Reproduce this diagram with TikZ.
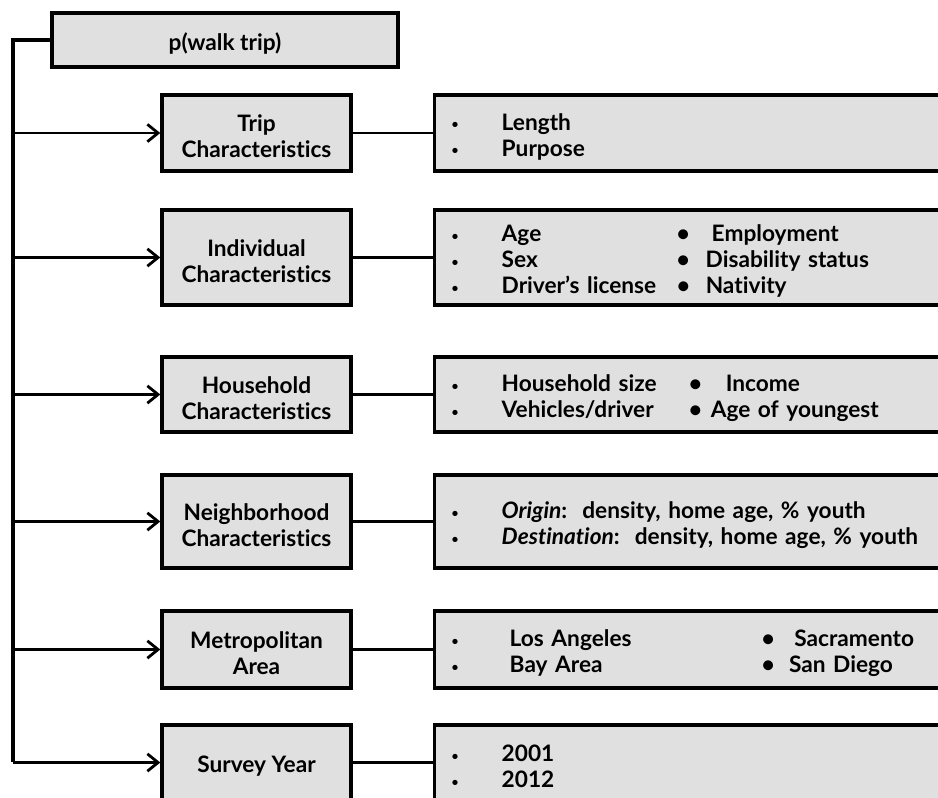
\documentclass[tikz,border=0pt]{standalone}
\usepackage{fontspec}
\setmainfont{Lato}[Ligatures=NoCommon]
\usetikzlibrary{arrows.meta}
\definecolor{boxgray}{RGB}{224,224,224}
\tikzset{
  catbox/.style={draw,line width=2.6pt,fill=boxgray,align=center,minimum width=141.75pt,inner sep=0pt},
  listbox/.style={draw,line width=2.6pt,fill=boxgray,anchor=west,text width=440pt,inner xsep=12.75pt,inner ysep=0pt,align=left},
  link/.style={line width=2.1pt},
  feed/.style={link,-{Straight Barb[length=8pt,width=13pt,line width=2.1pt]}},
}
\newcommand{\up}{\rule{0pt}{18pt}}
\newcommand{\sbul}{\makebox[37.5pt][l]{\raisebox{1pt}{\fontsize{9}{9}\selectfont\textbullet}}}
\newcommand{\bbul}[1]{\makebox[#1][l]{\textbullet}}

\begin{document}
\begin{tikzpicture}[x=0.75pt,y=0.75pt,yscale=-1,xscale=1,
  every node/.style={font=\fontsize{17}{19.5}\selectfont\bfseries}]
\clip (0,0) rectangle (938,797);
% outcome and trunk
\node[catbox,minimum width=259.5pt,minimum height=40.5pt] (walk) at (225,40) {\up p(walk trip)};
\coordinate (trunktop) at (13,40);
\coordinate (trunkbot) at (13,762);
\draw[link,line width=2.4pt] (walk.west) -- (trunktop) -- (trunkbot);

% groups of variables
\node[catbox,minimum height=57pt] (trip) at (256.5,133) {\up Trip\\Characteristics};
\node[catbox,minimum height=71.25pt] (indiv) at (256.5,257.5) {\up Individual\\Characteristics};
\node[catbox,minimum height=56.25pt] (house) at (256.5,394.5) {\up Household\\Characteristics};
\node[catbox,minimum height=69.75pt] (neigh) at (256.5,521.5) {\up Neighborhood\\Characteristics};
\node[catbox,minimum height=57.75pt] (metro) at (256.5,649.5) {\up Metropolitan\\Area};
\node[catbox,minimum height=56.25pt] (year) at (256.5,762.5) {\up Survey Year};

% lists
\node[listbox,minimum height=57pt] (tripl) at (433,133) {\up\sbul Length\\\sbul Purpose};
\node[listbox,minimum height=71.25pt] (indivl) at (433,257.5) {%
  \up\makebox[168.75pt][l]{\sbul Age}\bbul{21.75pt}\hspace{4.5pt}Employment\\
  \makebox[168.75pt][l]{\sbul Sex}\bbul{21.75pt}Disability status\\
  \makebox[168.75pt][l]{\sbul Driver's license}\bbul{21.75pt}Nativity};
\node[listbox,minimum height=56.25pt] (housel) at (433,394.5) {%
  \up\makebox[177.75pt][l]{\sbul Household size}\bbul{27.75pt}Income\\
  \makebox[177.75pt][l]{\sbul Vehicles/driver}\bbul{16.5pt}Age of youngest};
\node[listbox,minimum height=69.75pt] (neighl) at (433,521.5) {%
  \up\sbul\textit{Origin}:\ \ density, home age, \% youth\\
  \sbul\textit{Destination}:\ \ density, home age, \% youth};
\node[listbox,minimum height=57.75pt] (metrol) at (433,649.5) {%
  \up\makebox[232.5pt][l]{\sbul\hspace{6pt}Los Angeles}\bbul{24.5pt}Sacramento\\
  \makebox[232.5pt][l]{\sbul\hspace{6pt}Bay Area}\bbul{20.5pt}San Diego};
\node[listbox,minimum height=56.25pt] (yearl) at (433,762.5) {\up\sbul 2001\\\sbul 2012};

% connectors
\foreach \g in {trip,indiv,house,neigh,metro,year}
  \draw[feed] (\g.west -| trunktop) -- (\g.west);
\foreach \g in {trip,indiv,house,neigh,metro,year}
  \draw[link] (\g.east) -- (\g l.west);
\end{tikzpicture}
\end{document}
